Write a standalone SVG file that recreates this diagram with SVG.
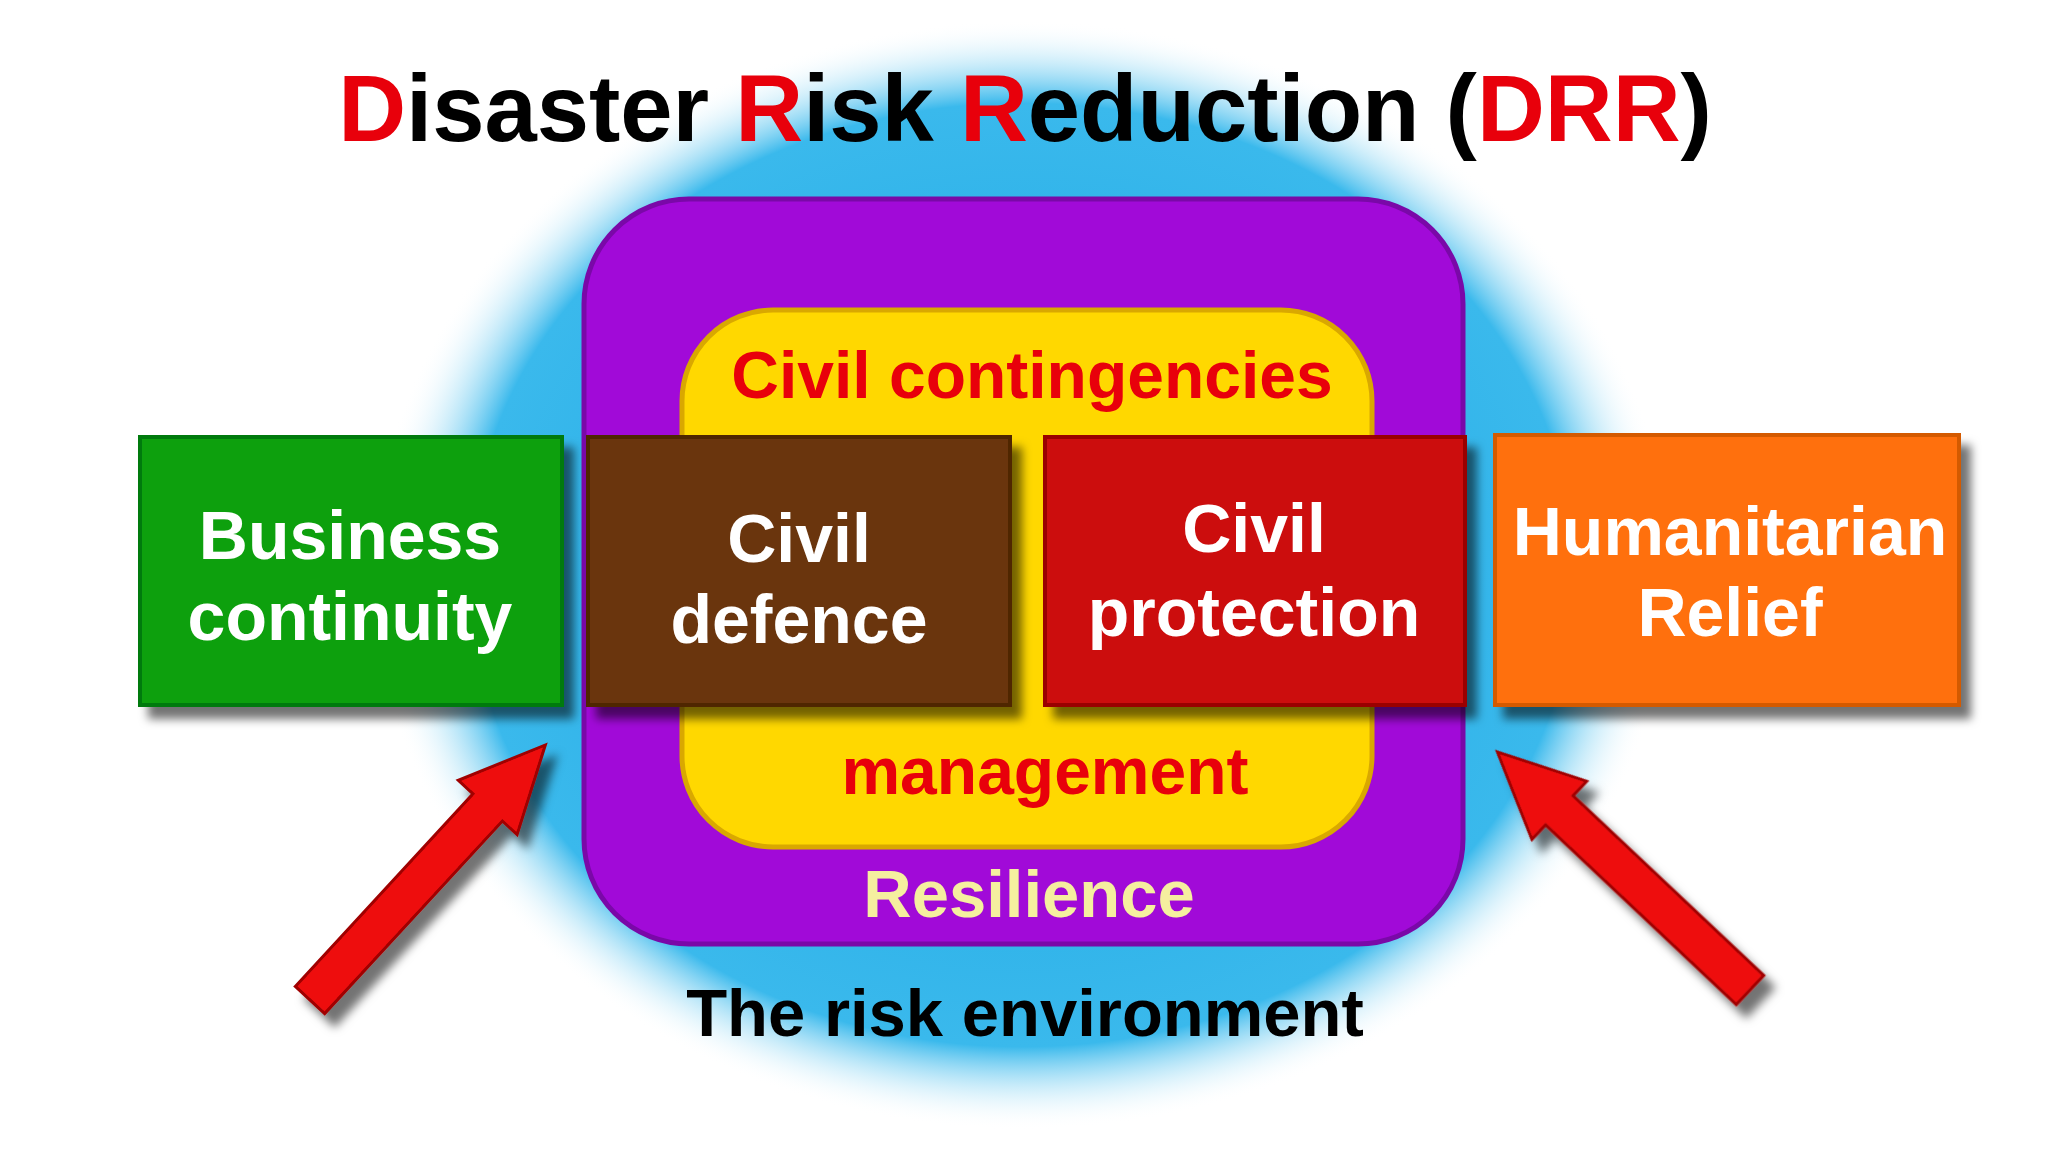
<svg xmlns="http://www.w3.org/2000/svg" width="2048" height="1152" viewBox="0 0 2048 1152">
<defs>
<radialGradient id="sky" cx="0.5" cy="0.5" r="0.5">
<stop offset="0" stop-color="#19a6e4"/><stop offset="0.85" stop-color="#3ab9ec"/><stop offset="1" stop-color="#ffffff" stop-opacity="0"/>
</radialGradient>
<filter id="sh" x="-10%" y="-10%" width="130%" height="130%"><feDropShadow dx="10" dy="12" stdDeviation="5" flood-color="#000" flood-opacity="0.55"/></filter>
<path id="arr" d="M0,-20 L262,-20 L262,-40 L347,0 L262,40 L262,20 L0,20 Z"/>
</defs>
<style>
.t{font-family:"Liberation Sans",Arial,sans-serif;font-weight:bold;text-anchor:middle}
.w{fill:#fff;font-size:68px}
.box{stroke-width:4;filter:url(#sh)}
</style>
<rect width="2048" height="1152" fill="#fff"/>
<ellipse cx="1022" cy="575" rx="650" ry="555" fill="url(#sky)"/>
<text class="t" x="1025" y="141" font-size="94" fill="#000"><tspan fill="#e8000b">D</tspan>isaster <tspan fill="#e8000b">R</tspan>isk <tspan fill="#e8000b">R</tspan>eduction (<tspan fill="#e8000b">DRR</tspan>)</text>
<g id="resilience">
<rect x="584" y="199" width="879" height="745" rx="105" fill="#a10ad8" stroke="#7a08a8" stroke-width="5"/>
<text class="t" x="1029" y="917" font-size="67" fill="#f5ef9f">Resilience</text>
</g>
<g id="civil-contingencies">
<rect x="682" y="310" width="690" height="537" rx="91" fill="#ffd800" stroke="#d9a800" stroke-width="5"/>
<text class="t" x="1032" y="398" font-size="66" fill="#e8000b">Civil contingencies</text>
<text class="t" x="1045" y="794" font-size="66" fill="#e8000b">management</text>
</g>
<g id="business-continuity">
<rect class="box" x="140" y="437" width="422" height="268" fill="#07a00f" stroke="#057a0a"/>
<text class="t w" x="350" y="559">Business</text><text class="t w" x="350" y="640">continuity</text>
</g>
<g id="civil-defence">
<rect class="box" x="588" y="437" width="422" height="268" fill="#6b3508" stroke="#4f2605"/>
<text class="t w" x="799" y="562">Civil</text><text class="t w" x="799" y="643">defence</text>
</g>
<g id="civil-protection">
<rect class="box" x="1045" y="437" width="420" height="268" fill="#cc0808" stroke="#9a0505"/>
<text class="t w" x="1254" y="552">Civil</text><text class="t w" x="1254" y="636">protection</text>
</g>
<g id="humanitarian-relief">
<rect class="box" x="1495" y="435" width="464" height="270" fill="#ff6f0a" stroke="#d45a05"/>
<text class="t w" x="1730" y="555">Humanitarian</text><text class="t w" x="1730" y="636">Relief</text>
</g>
<text class="t" x="1025" y="1036" font-size="67" fill="#000">The risk environment</text>
<g id="connectors" fill="#ee1010" stroke="#a00000" stroke-width="3" filter="url(#sh)">
<use href="#arr" transform="translate(310,1000) rotate(-47.3)"/>
<use href="#arr" transform="translate(1750,990) rotate(-136.7)"/>
</g>
</svg>
